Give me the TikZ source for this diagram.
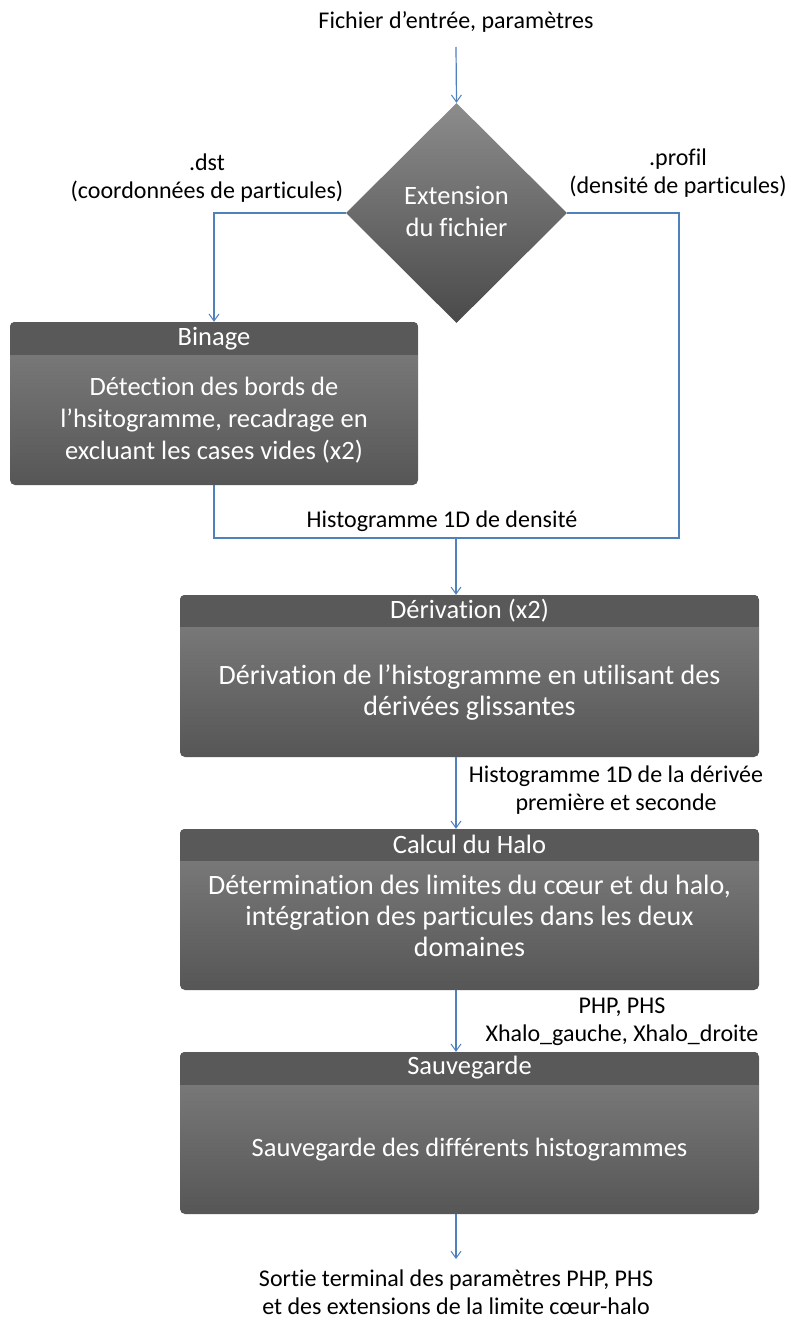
\documentclass[tikz,border=0pt]{standalone}
\usepackage{fontspec}
\setmainfont{Carlito}[Ligatures=NoCommon]
\usetikzlibrary{shapes.geometric,arrows.meta}
\definecolor{hdr}{HTML}{595959}
\definecolor{btop}{HTML}{808080}
\definecolor{bbot}{HTML}{565656}
\definecolor{dtop}{HTML}{8C8C8C}
\definecolor{dbot}{HTML}{4A4A4A}
\definecolor{ln}{HTML}{4F81BD}
\tikzset{
  boxbody/.style={rectangle, rounded corners=5pt, inner sep=0pt, top color=btop, bottom color=bbot, draw=none},
  boxtxt/.style={text=white, align=center, font=\fontsize{26.5}{32}\selectfont, inner sep=0pt},
  bigtxt/.style={boxtxt, font=\fontsize{28}{31}\selectfont},
  lbl/.style={text=black, align=center, font=\fontsize{24}{28}\selectfont, inner sep=0pt},
  conn/.style={draw=ln, line width=1.2pt},
  arr/.style={conn, -{Straight Barb[length=7pt,width=10pt,line width=1pt]}},
}
\newcommand{\mkheader}[2]{%
  \begin{scope}
    \clip[rounded corners=5pt] (#1.south west) rectangle (#1.north east);
    \fill[hdr] (#1.north west) rectangle ([yshift=-#2]#1.north east);
  \end{scope}}
\begin{document}
\begin{tikzpicture}[x=1pt,y=-1pt]
\useasboundingbox (0,0) rectangle (790,1322);
\fill[white] (0,0) rectangle (790,1322);

% top input
\node[lbl] (inp) at (456,22) {Fichier d’entrée, paramètres};
\coordinate (inA) at (456,47);

% decision
\node[diamond, minimum width=221pt, minimum height=220pt, inner sep=0pt, top color=dtop, bottom color=dbot] (dec) at (456.5,213) {};
\node[boxtxt] (dect) at (456.5,211) {Extension\\du fichier};

\node[lbl] (ldst) at (207,178) {.dst\\(coordonnées de particules)};
\node[lbl] (lprof) at (678,173) {.profil\\(densité de particules)};

% Binage
\node[boxbody, minimum width=408pt, minimum height=163pt] (bin) at (214,403.5) {};
\mkheader{bin}{33pt}
\node[boxtxt] (bint) at (214,339) {Binage};
\node[boxtxt] (binb) at (214,420) {Détection des bords de\\l’hsitogramme, recadrage en\\excluant les cases vides (x2)};

\coordinate (rc) at (679,538);
\coordinate (j) at (456,538);
\node[lbl] (lhist) at (442,521) {Histogramme 1D de densité};

% Derivation
\node[boxbody, minimum width=579pt, minimum height=162pt] (der) at (469.5,676) {};
\mkheader{der}{32pt}
\node[boxtxt] (dert) at (469.5,611) {Dérivation (x2)};
\node[bigtxt] (derb) at (469.5,693) {Dérivation de l’histogramme en utilisant des\\dérivées glissantes};

\node[lbl] (lder) at (616,790) {Histogramme 1D de la dérivée\\première et seconde};

% Calcul du Halo
\node[boxbody, minimum width=579pt, minimum height=161pt] (cal) at (469.5,909.5) {};
\mkheader{cal}{32pt}
\node[boxtxt] (calt) at (469.5,844) {Calcul du Halo};
\node[bigtxt] (calb) at (469.5,916) {Détermination des limites du cœur et du halo,\\intégration des particules dans les deux\\domaines};

\node[lbl] (lhalo) at (622,1022) {PHP, PHS\\Xhalo\_gauche, Xhalo\_droite};

% Sauvegarde
\node[boxbody, minimum width=579pt, minimum height=162pt] (sau) at (469.5,1133) {};
\mkheader{sau}{33pt}
\node[boxtxt] (saut) at (469.5,1068) {Sauvegarde};
\node[boxtxt] (saub) at (469.5,1150) {Sauvegarde des différents histogrammes};

\coordinate (outA) at (456,1259);
\node[lbl] (outt) at (456,1292) {Sortie terminal des paramètres PHP, PHS\\et des extensions de la limite cœur-halo};

% connectors
\draw[arr] (inA) -- (dec.north);
\draw[arr] (dec.west) -| (bin.north);
\draw[conn] (dec.east) -| (rc) -- (j);
\draw[conn] (bin.south) |- (j);
\draw[arr] (j) -- (j |- der.north);
\draw[arr] (j |- der.south) -- (j |- cal.north);
\draw[arr] (j |- cal.south) -- (j |- sau.north);
\draw[arr] (j |- sau.south) -- (outA);
\end{tikzpicture}
\end{document}
